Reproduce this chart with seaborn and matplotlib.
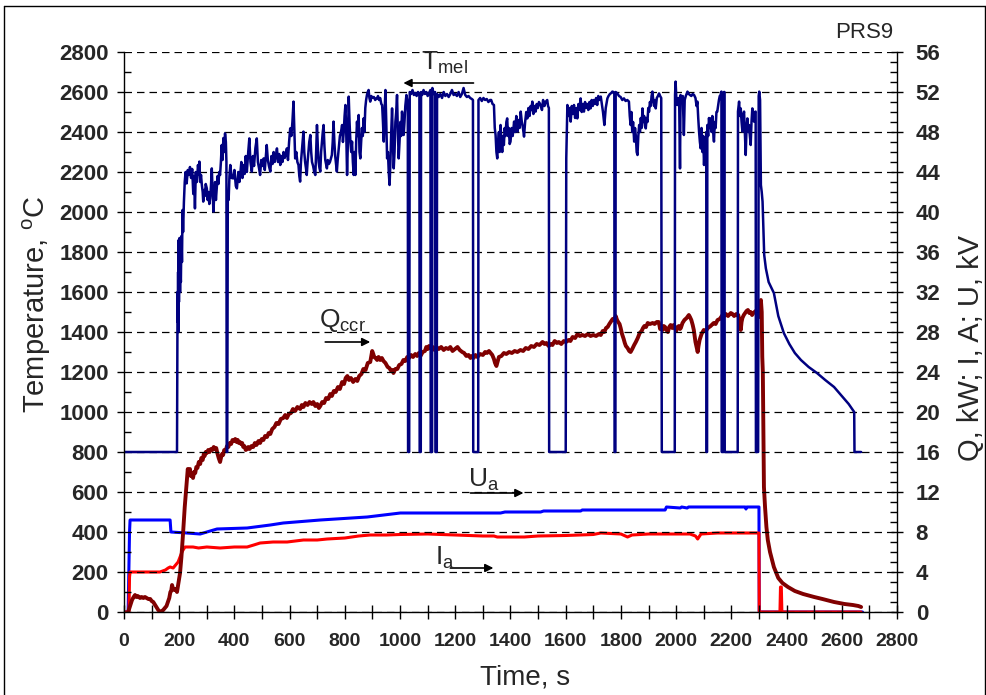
import matplotlib
matplotlib.use('Agg')
import matplotlib.pyplot as plt
import seaborn as sns
import pandas as pd
from matplotlib.ticker import MultipleLocator
from matplotlib.lines import Line2D

# ---------------- data ----------------
# T_mel : (time s, temperature C)
T_mel_pts = [
    (0, 800), (192, 800), (193, 1260), (194, 1600), (195, 1450), (196, 1700), (197, 1400),
    (198, 1860), (199, 1550), (201, 1870), (203, 1600), (204, 1720), (206, 1650), (208, 1880),
    (210, 1750), (212, 2010), (214, 1900), (217, 2050), (220, 2150), (223, 2200), (227, 2143),
    (231, 2210), (235, 2185), (239, 2225), (243, 2170), (247, 2215), (251, 2090), (254, 2180),
    (257, 2018), (260, 2200), (264, 2150), (268, 2235), (271, 2190), (273, 2252), (276, 2150),
    (279, 2185), (282, 2135), (285, 2100), (287, 2052), (290, 2110), (293, 2080), (296, 2140),
    (300, 2118), (303, 2060), (306, 2100), (309, 2040), (312, 2068), (315, 2130), (318, 2218),
    (321, 2100), (324, 2002), (327, 2090), (330, 2150), (333, 2060), (336, 2118), (339, 2180),
    (342, 2140), (345, 2200), (348, 2185), (351, 2250), (354, 2335), (357, 2260), (360, 2370),
    (363, 2300), (366, 2393), (369, 2350), (371, 2250), (372, 800), (374, 800), (376, 2085),
    (379, 2060), (382, 2180), (385, 2235), (390, 2170), (396, 2168), (400, 2210), (405, 2130),
    (409, 2118), (414, 2200), (418, 2150), (421, 2185), (425, 2250), (429, 2170), (433, 2235),
    (437, 2190), (441, 2280), (445, 2200), (450, 2300), (454, 2368), (458, 2250), (463, 2202),
    (467, 2280), (471, 2230), (476, 2320), (481, 2368), (485, 2250), (489, 2220), (493, 2185),
    (497, 2260), (501, 2230), (506, 2268), (510, 2210), (514, 2280), (517, 2335), (521, 2260),
    (525, 2230), (530, 2202), (534, 2280), (538, 2240), (542, 2300), (546, 2250), (550, 2280),
    (554, 2318), (558, 2250), (562, 2290), (566, 2235), (570, 2280), (574, 2250), (578, 2300),
    (582, 2270), (586, 2290), (590, 2318), (594, 2260), (598, 2350), (602, 2418), (606, 2380),
    (610, 2450), (614, 2552), (617, 2400), (620, 2268), (624, 2300), (628, 2250), (632, 2235),
    (635, 2180), (638, 2152), (641, 2250), (644, 2300), (647, 2350), (650, 2402), (653, 2300),
    (656, 2250), (659, 2220), (662, 2185), (665, 2250), (668, 2300), (671, 2350), (675, 2385),
    (678, 2300), (681, 2250), (685, 2230), (689, 2200), (693, 2185), (696, 2300), (699, 2435),
    (702, 2330), (705, 2250), (708, 2220), (711, 2202), (714, 2300), (717, 2350), (720, 2400),
    (723, 2435), (726, 2330), (729, 2260), (732, 2240), (735, 2218), (738, 2260), (742, 2240),
    (746, 2250), (750, 2270), (753, 2285), (756, 2350), (759, 2452), (762, 2350), (765, 2280),
    (768, 2240), (771, 2202), (774, 2260), (778, 2320), (782, 2380), (786, 2400), (790, 2435),
    (793, 2350), (796, 2400), (799, 2480), (802, 2535), (805, 2400), (808, 2185), (811, 2350),
    (814, 2577), (817, 2450), (820, 2352), (823, 2300), (826, 2352), (829, 2250), (832, 2185),
    (835, 2300), (838, 2185), (841, 2350), (844, 2452), (847, 2380), (850, 2485), (853, 2300),
    (856, 2268), (859, 2350), (862, 2420), (865, 2380), (868, 2468), (871, 2400), (874, 2520),
    (877, 2560), (880, 2585), (883, 2600), (886, 2610), (889, 2570), (892, 2552), (896, 2580),
    (900, 2570), (905, 2575), (910, 2560), (914, 2568), (917, 2568), (920, 2580), (924, 2560),
    (928, 2570), (932, 2540), (935, 2535), (938, 2450), (941, 2352), (944, 2500), (947, 2610),
    (950, 2450), (953, 2268), (956, 2300), (959, 2200), (962, 2135), (965, 2250), (968, 2400),
    (971, 2518), (974, 2350), (977, 2218), (980, 2300), (983, 2450), (986, 2500), (989, 2585),
    (992, 2400), (995, 2268), (998, 2350), (1001, 2450), (1004, 2380), (1007, 2502), (1010, 2450),
    (1013, 2385), (1016, 2450), (1019, 2530), (1023, 2585), (1026, 2560), (1028, 2500),
    (1029, 800), (1033, 800), (1035, 2600), (1040, 2590), (1045, 2610), (1050, 2585),
    (1055, 2595), (1060, 2580), (1065, 2600), (1070, 2590), (1071, 800), (1075, 800),
    (1076, 2600), (1080, 2585), (1085, 2610), (1090, 2590), (1095, 2600), (1100, 2580),
    (1105, 2595), (1110, 2610), (1111, 800), (1116, 800), (1117, 2620), (1122, 2590),
    (1127, 2600), (1128, 800), (1133, 800), (1134, 2590), (1140, 2575), (1146, 2590),
    (1152, 2570), (1158, 2600), (1164, 2580), (1170, 2590), (1176, 2575), (1182, 2590),
    (1188, 2610), (1194, 2585), (1200, 2590), (1206, 2580), (1212, 2600), (1218, 2575),
    (1224, 2590), (1230, 2620), (1236, 2585), (1242, 2575), (1248, 2580), (1254, 2570),
    (1260, 2565), (1264, 2560), (1265, 800), (1283, 800), (1284, 2560), (1290, 2570),
    (1296, 2555), (1302, 2570), (1308, 2560), (1314, 2565), (1320, 2550), (1326, 2560),
    (1330, 2560), (1335, 2540), (1340, 2535), (1343, 2420), (1346, 2385), (1349, 2300),
    (1352, 2268), (1355, 2350), (1358, 2400), (1361, 2300), (1364, 2435), (1367, 2350),
    (1370, 2300), (1373, 2380), (1376, 2335), (1379, 2420), (1382, 2380), (1385, 2450),
    (1388, 2468), (1391, 2380), (1394, 2420), (1397, 2340), (1400, 2352), (1404, 2420),
    (1408, 2380), (1413, 2452), (1417, 2400), (1421, 2480), (1425, 2402), (1429, 2460),
    (1433, 2420), (1437, 2502), (1441, 2450), (1445, 2420), (1449, 2377), (1453, 2450),
    (1457, 2500), (1461, 2468), (1465, 2520), (1469, 2480), (1473, 2530), (1476, 2510),
    (1479, 2552), (1483, 2490), (1487, 2530), (1491, 2502), (1495, 2540), (1499, 2520),
    (1503, 2550), (1509, 2535), (1514, 2510), (1518, 2560), (1523, 2530), (1528, 2552),
    (1533, 2560), (1536, 2530), (1539, 2520), (1540, 800), (1600, 800), (1602, 2268),
    (1606, 2535), (1610, 2480), (1614, 2520), (1618, 2452), (1622, 2530), (1626, 2490),
    (1630, 2535), (1634, 2470), (1638, 2520), (1642, 2468), (1646, 2540), (1650, 2510),
    (1654, 2568), (1658, 2500), (1662, 2540), (1666, 2502), (1670, 2550), (1674, 2520),
    (1678, 2540), (1682, 2510), (1686, 2550), (1690, 2518), (1694, 2560), (1698, 2530),
    (1702, 2560), (1706, 2540), (1710, 2570), (1714, 2535), (1718, 2580), (1722, 2560),
    (1727, 2577), (1731, 2540), (1735, 2500), (1740, 2435), (1745, 2520), (1751, 2568),
    (1755, 2580), (1760, 2590), (1765, 2595), (1769, 2602), (1773, 2600), (1776, 2590),
    (1777, 800), (1780, 800), (1781, 2600), (1787, 2593), (1793, 2580), (1799, 2575),
    (1805, 2560), (1811, 2568), (1817, 2555), (1823, 2560), (1829, 2552), (1832, 2480),
    (1835, 2435), (1838, 2500), (1841, 2400), (1844, 2450), (1848, 2352), (1851, 2420),
    (1854, 2380), (1857, 2300), (1860, 2285), (1863, 2380), (1866, 2435), (1869, 2400),
    (1872, 2470), (1875, 2420), (1878, 2518), (1881, 2450), (1884, 2480), (1887, 2430),
    (1890, 2418), (1893, 2470), (1896, 2450), (1899, 2520), (1902, 2502), (1905, 2550),
    (1908, 2530), (1911, 2580), (1914, 2602), (1917, 2560), (1920, 2530), (1923, 2560),
    (1926, 2518), (1930, 2570), (1934, 2580), (1938, 2593), (1942, 2580), (1946, 2570),
    (1948, 800), (1995, 800), (1996, 2585), (1998, 2652), (2001, 2560), (2004, 2535),
    (2008, 2570), (2011, 2550), (2014, 2218), (2016, 2585), (2020, 2560), (2024, 2580),
    (2028, 2385), (2031, 2560), (2035, 2580), (2041, 2602), (2046, 2590), (2050, 2585),
    (2055, 2580), (2060, 2590), (2065, 2585), (2070, 2570), (2074, 2530), (2077, 2552),
    (2080, 2470), (2083, 2402), (2086, 2350), (2089, 2318), (2092, 2420), (2095, 2300),
    (2098, 2380), (2101, 2235), (2104, 2350), (2107, 2280), (2109, 2400), (2110, 800),
    (2112, 800), (2113, 2435), (2116, 2380), (2119, 2470), (2122, 2420), (2125, 2468),
    (2128, 2400), (2131, 2480), (2134, 2400), (2137, 2352), (2140, 2450), (2143, 2420),
    (2146, 2500), (2149, 2502), (2152, 2530), (2155, 2560), (2158, 2580), (2161, 2585),
    (2164, 2602), (2165, 800), (2172, 800), (2173, 2600), (2175, 2600), (2176, 800),
    (2223, 800), (2224, 2502), (2228, 2552), (2231, 2480), (2234, 2518), (2237, 2450),
    (2240, 2402), (2243, 2480), (2246, 2502), (2249, 2400), (2252, 2285), (2255, 2420),
    (2258, 2468), (2261, 2400), (2264, 2435), (2267, 2380), (2270, 2335), (2273, 2450),
    (2276, 2518), (2279, 2470), (2282, 2452), (2285, 2500), (2288, 2502), (2289, 800),
    (2297, 800), (2299, 2580), (2301, 2602), (2304, 2560), (2307, 2135), (2310, 2100),
    (2313, 2052), (2317, 1885), (2319, 1785), (2325, 1718), (2335, 1650), (2354, 1595),
    (2370, 1480), (2390, 1395), (2410, 1340), (2430, 1295), (2452, 1260), (2480, 1225),
    (2510, 1195), (2540, 1160), (2572, 1125), (2600, 1080), (2625, 1040), (2645, 1000),
    (2646, 800), (2670, 800),
]

# Q_ccr : (time s, kW)
Q_ccr_pts = [
    (15, 0.0), (22, 0.6), (29, 1.2), (35, 1.5), (40, 1.7), (45, 1.5), (50, 1.6), (58, 1.4),
    (64, 1.5), (70, 1.4), (76, 1.5), (82, 1.4), (88, 1.3), (95, 1.3), (100, 1.1), (106, 1.0),
    (115, 0.6), (124, 0.2), (132, 0.0), (137, 0.1), (142, 0.2), (148, 0.4), (154, 0.6),
    (160, 1.1), (164, 1.4), (168, 2.0), (171, 2.1), (174, 2.7), (178, 2.3), (182, 2.2),
    (187, 2.3), (192, 2.0), (198, 3.0), (203, 3.9), (208, 5.5), (214, 7.9), (220, 10.5),
    (228, 13.2), (231, 14.3), (234, 13.9), (239, 14.3), (242, 13.6), (245, 13.9), (250, 13.4),
    (254, 14.0), (258, 13.9), (262, 14.5), (266, 14.4), (271, 15.0), (276, 14.8), (280, 15.4),
    (285, 15.2), (289, 15.8), (292, 15.6), (296, 16.0), (300, 15.9), (305, 16.2), (310, 16.0),
    (315, 16.3), (320, 16.2), (325, 16.5), (330, 16.3), (334, 16.4), (338, 15.9), (343, 15.4),
    (348, 15.0), (352, 15.5), (355, 15.8), (359, 15.7), (363, 16.2), (368, 16.1), (373, 16.6),
    (378, 16.5), (383, 16.9), (388, 16.8), (393, 17.2), (398, 17.1), (403, 17.3), (408, 17.0),
    (412, 17.2), (416, 16.9), (420, 17.0), (424, 16.8), (428, 16.9), (432, 16.5), (436, 16.6),
    (441, 16.2), (446, 16.3), (450, 16.5), (455, 16.3), (462, 16.6), (468, 16.5), (474, 16.9),
    (480, 16.7), (487, 17.1), (493, 16.9), (499, 17.3), (505, 17.2), (511, 17.6), (518, 17.5),
    (524, 17.9), (530, 17.8), (537, 18.3), (545, 18.5), (552, 18.9), (560, 18.8), (568, 19.3),
    (577, 19.4), (584, 19.7), (590, 19.4), (597, 19.8), (605, 19.9), (612, 20.3), (620, 20.1),
    (628, 20.5), (638, 20.3), (644, 20.7), (650, 20.5), (657, 20.9), (665, 20.7), (672, 21.0),
    (680, 20.8), (686, 21.0), (693, 20.6), (700, 20.8), (706, 20.4), (711, 20.6), (718, 21.0),
    (725, 20.9), (732, 21.4), (740, 21.3), (747, 21.8), (753, 21.6), (760, 22.1), (767, 22.0),
    (775, 22.5), (782, 22.3), (790, 23.0), (797, 22.8), (803, 23.4), (809, 23.6), (815, 23.2),
    (822, 23.4), (830, 23.0), (838, 23.3), (845, 23.1), (852, 23.6), (860, 23.8), (867, 24.3),
    (875, 24.2), (883, 24.9), (892, 25.0), (896, 25.6), (899, 26.1), (903, 25.8), (906, 25.5),
    (911, 25.4), (917, 25.2), (922, 25.5), (928, 25.2), (934, 25.4), (940, 25.1), (947, 24.9),
    (955, 24.5), (961, 24.4), (968, 24.1), (972, 24.2), (976, 23.9), (983, 24.3), (990, 24.3),
    (997, 24.7), (1005, 24.8), (1012, 25.2), (1019, 25.1), (1026, 25.5), (1033, 25.4),
    (1040, 25.7), (1047, 25.5), (1055, 25.8), (1062, 25.6), (1068, 25.9), (1074, 25.6),
    (1082, 26.0), (1090, 26.1), (1095, 26.5), (1100, 26.3), (1105, 26.6), (1110, 26.4),
    (1118, 26.5), (1125, 26.2), (1132, 26.5), (1140, 26.3), (1149, 26.5), (1158, 26.2),
    (1166, 26.4), (1175, 26.3), (1182, 26.5), (1190, 26.1), (1199, 26.3), (1208, 26.5),
    (1216, 26.2), (1225, 26.0), (1232, 25.9), (1240, 25.6), (1248, 25.7), (1255, 25.4),
    (1260, 25.6), (1266, 25.4), (1273, 25.7), (1280, 25.5), (1290, 25.8), (1300, 25.7),
    (1308, 26.0), (1315, 25.9), (1322, 26.1), (1328, 25.9), (1334, 25.7), (1340, 25.3),
    (1344, 24.9), (1349, 24.6), (1353, 25.0), (1358, 25.5), (1367, 25.6), (1376, 25.9),
    (1385, 25.8), (1395, 26.0), (1405, 25.9), (1415, 26.1), (1425, 26.0), (1436, 26.2),
    (1446, 26.1), (1455, 26.4), (1465, 26.3), (1475, 26.6), (1485, 26.5), (1495, 26.8),
    (1505, 26.7), (1516, 27.0), (1523, 26.8), (1530, 26.9), (1538, 26.6), (1545, 26.8),
    (1552, 26.7), (1560, 27.1), (1568, 26.9), (1575, 27.0), (1584, 26.8), (1593, 27.1),
    (1601, 27.0), (1610, 27.2), (1617, 27.1), (1625, 27.5), (1634, 27.4), (1643, 27.8),
    (1651, 27.6), (1660, 27.7), (1670, 27.6), (1680, 27.8), (1690, 27.6), (1700, 27.7),
    (1710, 27.6), (1720, 27.8), (1727, 27.7), (1734, 28.1), (1740, 28.0), (1746, 28.4),
    (1752, 28.5), (1758, 28.8), (1765, 29.1), (1770, 29.3), (1775, 29.2), (1781, 29.6),
    (1786, 29.2), (1790, 29.0), (1795, 28.8), (1799, 28.4), (1804, 27.8), (1810, 27.3),
    (1814, 26.9), (1818, 26.6), (1824, 26.4), (1830, 26.1), (1835, 26.0), (1841, 26.3),
    (1848, 26.7), (1854, 27.0), (1861, 27.4), (1868, 27.9), (1875, 28.1), (1880, 28.4),
    (1885, 28.6), (1891, 28.5), (1897, 28.9), (1905, 28.8), (1915, 28.9), (1922, 28.8),
    (1930, 29.0), (1937, 29.0), (1942, 28.3), (1946, 28.6), (1951, 28.2), (1955, 28.6),
    (1960, 28.5), (1965, 28.2), (1970, 28.0), (1975, 28.5), (1980, 28.7), (1986, 28.4),
    (1991, 28.7), (1996, 28.4), (2000, 28.1), (2005, 28.5), (2010, 28.6), (2014, 28.3),
    (2017, 28.4), (2023, 28.9), (2030, 29.2), (2038, 29.4), (2046, 29.7), (2050, 29.5),
    (2055, 29.2), (2060, 28.7), (2064, 28.2), (2067, 27.6), (2070, 27.0), (2074, 26.5),
    (2078, 26.0), (2081, 26.6), (2085, 27.2), (2092, 27.8), (2100, 28.2), (2107, 28.1),
    (2115, 28.4), (2125, 28.6), (2136, 28.9), (2143, 28.8), (2150, 29.2), (2158, 29.3),
    (2168, 29.7), (2174, 29.6), (2180, 29.8), (2188, 29.6), (2198, 29.9), (2204, 29.8),
    (2210, 29.6), (2218, 29.8), (2225, 29.7), (2230, 29.0), (2234, 28.2), (2237, 29.0),
    (2240, 29.4), (2245, 29.7), (2250, 29.9), (2255, 30.1), (2260, 30.2), (2265, 29.9),
    (2270, 30.0), (2275, 29.7), (2280, 29.9), (2288, 30.1), (2296, 30.0), (2300, 29.5),
    (2305, 30.5), (2307, 31.2), (2310, 30.0), (2312, 25.5), (2314, 24.0), (2316, 18.0),
    (2318, 12.5), (2322, 10.5), (2327, 8.5), (2332, 7.2), (2340, 6.0), (2354, 4.5),
    (2370, 3.4), (2385, 2.9), (2405, 2.5), (2430, 2.1), (2460, 1.8), (2500, 1.5), (2530, 1.3),
    (2572, 1.0), (2610, 0.8), (2640, 0.7), (2660, 0.6), (2670, 0.5),
]

# U_a : (time s, kV)
U_a_pts = [
    (0, 0.0), (15, 0.0), (20, 8.0), (22, 9.2), (167, 9.2), (170, 8.0), (228, 7.9), (276, 7.8),
    (300, 8.0), (337, 8.3), (446, 8.4), (530, 8.7), (577, 8.9), (711, 9.2), (881, 9.5),
    (1001, 9.9), (1364, 9.9), (1380, 10.0), (1509, 10.0), (1520, 10.1), (1654, 10.1),
    (1660, 10.2), (1960, 10.2), (1965, 10.5), (2015, 10.4), (2020, 10.5), (2040, 10.4),
    (2045, 10.5), (2250, 10.5), (2253, 10.3), (2256, 10.5), (2300, 10.5), (2301, 0.0),
    (2675, 0.0),
]

# I_a : (time s, A)
I_a_pts = [
    (0, 0.0), (18, 0.0), (20, 3.5), (22, 4.0), (130, 4.0), (150, 4.2), (160, 4.4), (167, 4.5),
    (178, 4.4), (190, 4.8), (196, 5.0), (203, 5.5), (210, 6.0), (214, 6.2), (221, 6.5),
    (250, 6.5), (270, 6.4), (300, 6.5), (348, 6.4), (400, 6.5), (446, 6.5), (470, 6.7),
    (493, 6.9), (540, 7.0), (591, 7.0), (650, 7.2), (700, 7.2), (736, 7.3), (800, 7.4),
    (850, 7.6), (892, 7.7), (950, 7.7), (1000, 7.75), (1100, 7.8), (1200, 7.7), (1300, 7.6),
    (1340, 7.6), (1352, 7.5), (1364, 7.5), (1450, 7.5), (1500, 7.6), (1600, 7.65),
    (1700, 7.75), (1727, 7.9), (1800, 7.8), (1824, 7.5), (1840, 7.7), (1900, 7.8), (1969, 7.8),
    (2000, 7.8), (2050, 7.8), (2070, 7.6), (2078, 7.3), (2090, 7.8), (2150, 7.9), (2250, 7.9),
    (2300, 7.9), (2301, 0.0), (2376, 0.0), (2378, 2.5), (2381, 2.5), (2383, 0.0), (2670, 0.0),
]

x_ticks = list(range(0, 2801, 200))
y_left_ticks = list(range(0, 2801, 200))
y_right_ticks = list(range(0, 57, 4))

# ---------------- figure ----------------
sns.set_theme(style='white')
plt.rcParams['font.family'] = ['Liberation Sans', 'DejaVu Sans']
plt.rcParams['mathtext.default'] = 'regular'
plt.rcParams['axes.edgecolor'] = 'black'

W, H = 987, 695
fig = plt.figure(figsize=(W / 100, H / 100), dpi=100)
fig.patch.set_facecolor('white')
ax = fig.add_axes([124 / W, 1 - 612 / H, (897 - 124) / W, (612 - 52) / H])
ax2 = ax.twinx()
ax.set_zorder(ax2.get_zorder() + 1)
ax.patch.set_visible(False)


def to_df(pts):
    return pd.DataFrame(pts, columns=['t', 'v'])


dT = to_df(T_mel_pts)
dQ = to_df(Q_ccr_pts)
dU = to_df(U_a_pts)
dI = to_df(I_a_pts)

sns.lineplot(data=dU, x='t', y='v', ax=ax2, sort=False, estimator=None, color='#0000FF', lw=2.2)
sns.lineplot(data=dI, x='t', y='v', ax=ax2, sort=False, estimator=None, color='#FF0000', lw=2.2)
sns.lineplot(data=dQ, x='t', y='v', ax=ax2, sort=False, estimator=None, color='#800000', lw=2.8)
sns.lineplot(data=dT, x='t', y='v', ax=ax, sort=False, estimator=None, color='#000080', lw=1.8)

ax.set_xlim(0, 2800)
ax.set_ylim(0, 2800)
ax2.set_ylim(0, 56)

ax.set_xticks(x_ticks)
ax.set_yticks(y_left_ticks)
ax2.set_yticks(y_right_ticks)
ax.xaxis.set_minor_locator(MultipleLocator(100))
ax.yaxis.set_minor_locator(MultipleLocator(100))
ax2.yaxis.set_minor_locator(MultipleLocator(1))

ax.yaxis.grid(True, which='major', linestyle=(0, (6, 4)), color='black', lw=0.9)
ax.xaxis.grid(False)
ax2.grid(False)

for s in ['top', 'right']:
    ax.spines[s].set_visible(False)
for s in ['top', 'left', 'bottom']:
    ax2.spines[s].set_visible(False)
for a, s in [(ax, 'left'), (ax, 'bottom'), (ax2, 'right')]:
    a.spines[s].set_color('black')
    a.spines[s].set_linewidth(1.0)

ax.tick_params(axis='x', which='both', direction='inout', length=10, width=1, color='black', pad=10, bottom=True)
ax.tick_params(axis='y', which='major', direction='out', length=5, width=1, color='black', pad=6, left=True)
ax.tick_params(axis='y', which='minor', direction='in', length=5, width=1, color='black', left=True)
ax2.tick_params(axis='y', which='major', direction='inout', length=9, width=1, color='black', pad=9, right=True)
ax2.tick_params(axis='y', which='minor', direction='in', length=5, width=1, color='black', right=True)

ax.set_xticklabels([str(v) for v in x_ticks], fontsize=14, fontweight='bold')
ax.set_yticklabels([str(v) for v in y_left_ticks], fontsize=16, fontweight='bold')
ax2.set_yticklabels([str(v) for v in y_right_ticks], fontsize=16, fontweight='bold')

ax.set_xlabel('Time, s', fontsize=20)
ax.set_ylabel('Temperature, $^{o}$C', fontsize=21)
ax2.set_ylabel('Q, kW; I, A; U, kV', fontsize=21)
ax.xaxis.set_label_coords((525 - 124) / (897 - 124), -(665 - 612) / (612 - 52))
ax.yaxis.set_label_coords(-(124 - 53) / (897 - 124), (612 - 304) / (612 - 52))
ax2.yaxis.set_label_coords(1 + (957 - 897) / (897 - 124), (612 - 348) / (612 - 52))

# annotations (arrows in temperature-axis data coordinates)
arr = dict(arrowstyle='-|>', color='black', lw=1.2, mutation_scale=12, shrinkA=0, shrinkB=0)
ax.annotate('', xy=(1012, 2645), xytext=(1266, 2645), arrowprops=arr)
ax.text(1161, 2710, 'T$_{mel}$', fontsize=19, ha='center', va='baseline')
ax.annotate('', xy=(892, 1350), xytext=(729, 1350), arrowprops=arr)
ax.text(791, 1425, 'Q$_{ccr}$', fontsize=19, ha='center', va='baseline')
ax.annotate('', xy=(1447, 595), xytext=(1255, 595), arrowprops=arr)
ax.text(1302, 625, 'U$_{a}$', fontsize=19, ha='center', va='baseline')
ax.annotate('', xy=(1338, 220), xytext=(1182, 220), arrowprops=arr)
ax.text(1164, 235, 'I$_{a}$', fontsize=19, ha='center', va='baseline')

fig.text(893 / W, 1 - 38 / H, 'PRS9', fontsize=16, ha='right', va='baseline')

# outer frame
for (x0, y0, x1, y1) in [(4.5, 5.5, 985.5, 5.5), (4.5, 5.5, 4.5, 700), (985.5, 5.5, 985.5, 700)]:
    fig.add_artist(Line2D([x0 / W, x1 / W], [1 - y0 / H, 1 - y1 / H], color='black', lw=1.0,
                          transform=fig.transFigure))

fig.savefig('out.png', dpi=100)
